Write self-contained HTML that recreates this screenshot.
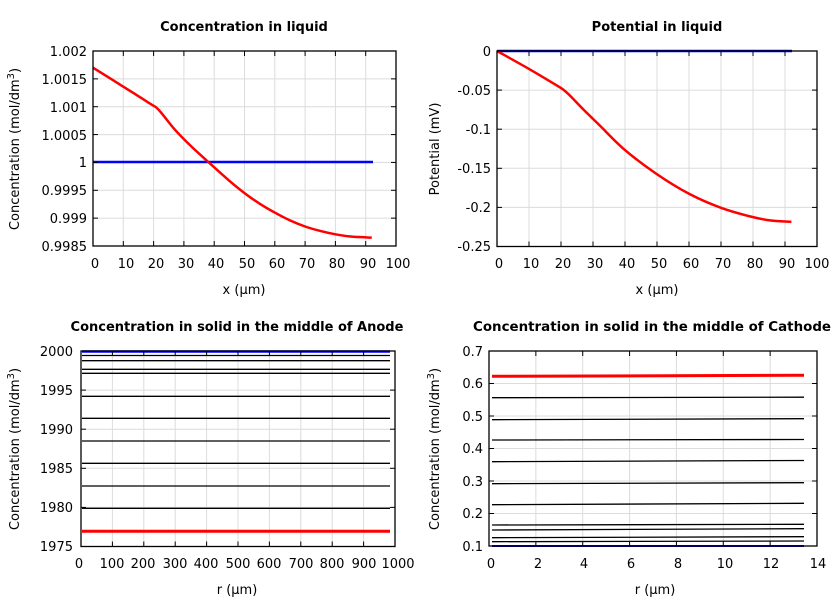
<!DOCTYPE html>
<html><head><meta charset="utf-8"><style>
body{margin:0;background:#fff}
svg{display:block}
text{font-family:"DejaVu Sans","Liberation Sans",sans-serif;font-size:13px;fill:#000}
.t{font-weight:bold;font-size:13px}
</style></head><body>
<svg id="s" width="840" height="600" xmlns="http://www.w3.org/2000/svg">
<g id="grid"></g>
<text class="t" x="244" y="31" text-anchor="middle">Concentration in liquid</text>
<text class="t" x="657" y="31" text-anchor="middle">Potential in liquid</text>
<text class="t" x="237" y="331" text-anchor="middle">Concentration in solid in the middle of Anode</text>
<text class="t" x="652" y="331" text-anchor="middle" textLength="358" lengthAdjust="spacingAndGlyphs">Concentration in solid in the middle of Cathode</text>
<g text-anchor="end">
<text x="87" y="56">1.002</text><text x="87" y="84">1.0015</text><text x="87" y="112">1.001</text><text x="87" y="140">1.0005</text><text x="87" y="167">1</text><text x="87" y="195">0.9995</text><text x="87" y="223">0.999</text><text x="87" y="251">0.9985</text>
<text x="491" y="56">0</text><text x="491" y="95">-0.05</text><text x="491" y="134">-0.1</text><text x="491" y="173">-0.15</text><text x="491" y="212">-0.2</text><text x="491" y="251">-0.25</text>
<text x="73" y="356">2000</text><text x="73" y="395">1995</text><text x="73" y="434">1990</text><text x="73" y="473">1985</text><text x="73" y="512">1980</text><text x="73" y="551">1975</text>
<text x="483" y="356">0.7</text><text x="483" y="388">0.6</text><text x="483" y="421">0.5</text><text x="483" y="453">0.4</text><text x="483" y="486">0.3</text><text x="483" y="518">0.2</text><text x="483" y="551">0.1</text>
</g>
<g text-anchor="middle">
<text x="95" y="268">0</text><text x="126" y="268">10</text><text x="156" y="268">20</text><text x="186" y="268">30</text><text x="216" y="268">40</text><text x="247" y="268">50</text><text x="277" y="268">60</text><text x="307" y="268">70</text><text x="337" y="268">80</text><text x="368" y="268">90</text><text x="398" y="268">100</text>
<text x="499" y="268">0</text><text x="531" y="268">10</text><text x="563" y="268">20</text><text x="595" y="268">30</text><text x="627" y="268">40</text><text x="659" y="268">50</text><text x="691" y="268">60</text><text x="723" y="268">70</text><text x="755" y="268">80</text><text x="787" y="268">90</text><text x="817" y="268">100</text>
<text x="79" y="568">0</text><text x="112" y="568">100</text><text x="143" y="568">200</text><text x="175" y="568">300</text><text x="206" y="568">400</text><text x="238" y="568">500</text><text x="269" y="568">600</text><text x="301" y="568">700</text><text x="332" y="568">800</text><text x="364" y="568">900</text><text x="398" y="568">1000</text>
<text x="491" y="568">0</text><text x="538" y="568">2</text><text x="584" y="568">4</text><text x="631" y="568">6</text><text x="678" y="568">8</text><text x="725" y="568">10</text><text x="771" y="568">12</text><text x="818" y="568">14</text>
<text x="244" y="294">x (μm)</text><text x="657" y="294">x (μm)</text>
<text x="237" y="594">r (μm)</text><text x="655" y="594">r (μm)</text>
</g>
<text transform="translate(19,149) rotate(-90)" text-anchor="middle">Concentration (mol/dm<tspan dy="-5" font-size="10">3</tspan><tspan dy="5">)</tspan></text>
<text transform="translate(439,149) rotate(-90)" text-anchor="middle">Potential (mV)</text>
<text transform="translate(19,449) rotate(-90)" text-anchor="middle">Concentration (mol/dm<tspan dy="-5" font-size="10">3</tspan><tspan dy="5">)</tspan></text>
<text transform="translate(439,449) rotate(-90)" text-anchor="middle">Concentration (mol/dm<tspan dy="-5" font-size="10">3</tspan><tspan dy="5">)</tspan></text>
<g fill="none" stroke-linejoin="round">
<line x1="93" y1="162" x2="373" y2="162" stroke="#0000ff" stroke-width="2.5"/>
<path id="c1" stroke="#ff0000" stroke-width="2.5"/>
<line x1="497" y1="51" x2="792" y2="51" stroke="#0000ff" stroke-width="2.5"/>
<path id="c2" stroke="#ff0000" stroke-width="2.5"/>
<g stroke="#000" stroke-width="1.3">
<line x1="82" x2="390" y1="355.5" y2="355.5"/><line x1="82" x2="390" y1="360.7" y2="360.7"/><line x1="82" x2="390" y1="369.3" y2="369.3"/><line x1="82" x2="390" y1="373.3" y2="373.3"/><line x1="82" x2="390" y1="396.3" y2="396.3"/><line x1="82" x2="390" y1="418.3" y2="418.3"/><line x1="82" x2="390" y1="441" y2="441"/><line x1="82" x2="390" y1="463.3" y2="463.3"/><line x1="82" x2="390" y1="486" y2="486"/><line x1="82" x2="390" y1="508.3" y2="508.3"/>
<line x1="492" x2="804" y1="397.7" y2="397.2"/><line x1="492" x2="804" y1="419.7" y2="418.7"/><line x1="492" x2="804" y1="440" y2="439.5"/><line x1="492" x2="804" y1="461.7" y2="460.5"/><line x1="492" x2="804" y1="483.7" y2="482.7"/><line x1="492" x2="804" y1="504.7" y2="503.3"/><line x1="492" x2="804" y1="525" y2="524.3"/><line x1="492" x2="804" y1="530" y2="528.7"/><line x1="492" x2="804" y1="537.7" y2="536.7"/><line x1="492" x2="804" y1="541.7" y2="541"/>
</g>
<line x1="82" y1="351.5" x2="390" y2="351.5" stroke="#0000ff" stroke-width="2.5"/>
<line x1="82" y1="531.3" x2="390" y2="531.3" stroke="#ff0000" stroke-width="3"/>
<line x1="492" y1="376.3" x2="804" y2="375.3" stroke="#ff0000" stroke-width="3"/>
<line x1="492" y1="546" x2="804" y2="546" stroke="#0000ff" stroke-width="2"/>
</g>
<g id="frames"></g>
</svg>
<script>
var NS="http://www.w3.org/2000/svg";
function L(g,x1,y1,x2,y2,c,w){var l=document.createElementNS(NS,"line");l.setAttribute("x1",x1);l.setAttribute("y1",y1);l.setAttribute("x2",x2);l.setAttribute("y2",y2);l.setAttribute("stroke",c);l.setAttribute("stroke-width",w);g.appendChild(l);}
var grid=document.getElementById("grid"),fr=document.getElementById("frames");
var P=[[93,396,51,246,10,7],[497,817,51,246.5,10,5],[81,395,351,546.5,10,5],[489,817,351,546,7,6]];
P.forEach(function(p){var x0=p[0],x1=p[1],y0=p[2],y1=p[3];
for(var i=1;i<p[4];i++){var x=x0+(x1-x0)*i/p[4];L(grid,x,y0,x,y1,"#dcdcdc",1);L(fr,x,y1,x,y1-5,"#000",1);L(fr,x,y0,x,y0+5,"#000",1);}
for(var j=1;j<p[5];j++){var y=y0+(y1-y0)*j/p[5];L(grid,x0,y,x1,y,"#dcdcdc",1);L(fr,x0,y,x0+5,y,"#000",1);L(fr,x1,y,x1-5,y,"#000",1);}
var r=document.createElementNS(NS,"rect");r.setAttribute("x",x0);r.setAttribute("y",y0);r.setAttribute("width",x1-x0);r.setAttribute("height",y1-y0);r.setAttribute("fill","none");r.setAttribute("stroke","#000");r.setAttribute("stroke-width","1.3");fr.appendChild(r);});
function cr(pts){var d="M"+pts[0][0]+","+pts[0][1];for(var i=0;i<pts.length-1;i++){var p0=pts[Math.max(0,i-1)],p1=pts[i],p2=pts[i+1],p3=pts[Math.min(pts.length-1,i+2)];
d+=" C"+(p1[0]+(p2[0]-p0[0])/6)+","+(p1[1]+(p2[1]-p0[1])/6)+" "+(p2[0]-(p3[0]-p1[0])/6)+","+(p2[1]-(p3[1]-p1[1])/6)+" "+p2[0]+","+p2[1];}return d;}
var a=[[0,1.0017],[10,1.00136],[19,1.00105],[21,1.00098],[23,1.00086],[27,1.00059],[32,1.00031],[38,1.00001],[45,0.99967],[50,0.99945],[55,0.99926],[60,0.9991],[65,0.99896],[70,0.99885],[75,0.99877],[80,0.99871],[85,0.99867],[92,0.99865]];
document.getElementById("c1").setAttribute("d",cr(a.map(function(q){return [93+3.03*q[0],51+(1.002-q[1])*55714];})));
var b=[[0,0],[10,-0.023],[19,-0.045],[21,-0.0505],[23,-0.058],[27,-0.075],[32,-0.095],[40,-0.127],[50,-0.158],[60,-0.183],[70,-0.201],[80,-0.213],[86,-0.2175],[92,-0.219]];
document.getElementById("c2").setAttribute("d",cr(b.map(function(q){return [497+3.2*q[0],51-780*q[1]];})));
</script>
</body></html>
